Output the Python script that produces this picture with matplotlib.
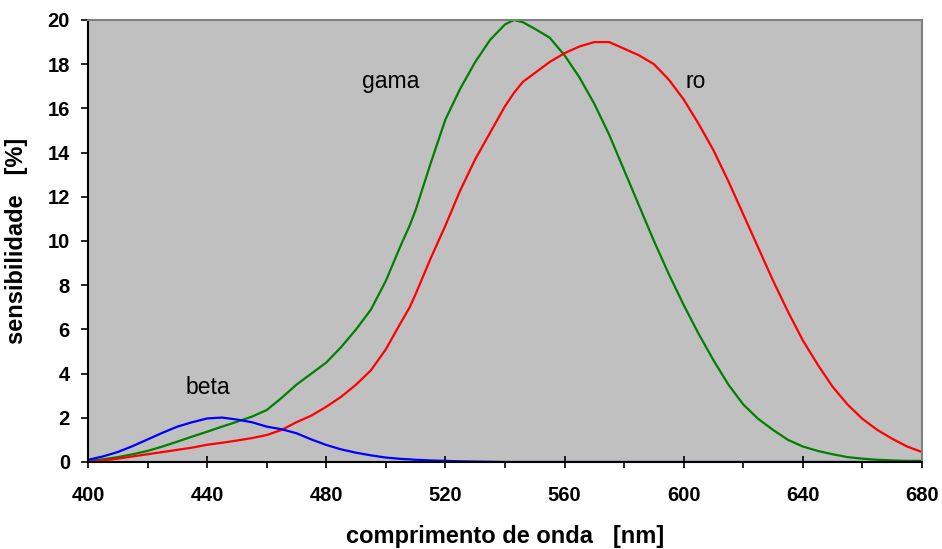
import matplotlib.pyplot as plt
from matplotlib.ticker import MultipleLocator

plt.rcParams['font.family'] = ['Liberation Sans', 'DejaVu Sans']

# comprimento de onda [nm]
wl = [400, 405, 410, 415, 420, 425, 430, 435, 440, 445, 450, 455, 460, 465, 470, 475,
      480, 485, 490, 495, 500, 505, 508, 510, 515, 520, 525, 530, 535, 540, 543,
      546, 550, 555, 560, 565, 570, 575, 580, 585, 590, 595, 600, 605, 610, 615,
      620, 625, 630, 635, 640, 645, 650, 655, 660, 665, 670, 675, 680]

# sensibilidade [%]
gama = [0.05, 0.12, 0.22, 0.35, 0.5, 0.7, 0.92, 1.15, 1.37, 1.6, 1.82, 2.05, 2.35, 2.9, 3.5, 4.0,
        4.5, 5.2, 6.0, 6.9, 8.2, 9.8, 10.7, 11.4, 13.5, 15.5, 16.9, 18.1, 19.1, 19.8, 20.0,
        19.9, 19.6, 19.2, 18.4, 17.4, 16.2, 14.8, 13.2, 11.6, 10.0, 8.5, 7.1, 5.8, 4.6, 3.5,
        2.6, 1.95, 1.45, 1.0, 0.7, 0.5, 0.35, 0.22, 0.15, 0.1, 0.07, 0.05, 0.05]
ro = [0.0, 0.07, 0.15, 0.25, 0.35, 0.45, 0.55, 0.65, 0.78, 0.87, 0.97, 1.08, 1.22, 1.45, 1.8, 2.1,
      2.5, 2.95, 3.5, 4.15, 5.1, 6.3, 7.0, 7.6, 9.2, 10.7, 12.3, 13.7, 14.9, 16.1, 16.7,
      17.2, 17.6, 18.1, 18.5, 18.8, 19.0, 19.0, 18.7, 18.4, 18.0, 17.3, 16.4, 15.3, 14.1, 12.7,
      11.2, 9.7, 8.2, 6.8, 5.5, 4.4, 3.4, 2.6, 1.95, 1.45, 1.05, 0.7, 0.45]
beta = [0.1, 0.25, 0.45, 0.72, 1.02, 1.32, 1.6, 1.8, 1.97, 2.01, 1.92, 1.8, 1.6, 1.48, 1.3, 1.02,
        0.77, 0.57, 0.42, 0.3, 0.2, 0.14, 0.12, 0.1, 0.07, 0.05, 0.03, 0.02, 0.01, 0.0, 0.0,
        0.0, 0.0, 0.0, 0.0, 0.0, 0.0, 0.0, 0.0, 0.0, 0.0, 0.0, 0.0, 0.0, 0.0, 0.0,
        0.0, 0.0, 0.0, 0.0, 0.0, 0.0, 0.0, 0.0, 0.0, 0.0, 0.0, 0.0, 0.0]

fig = plt.figure(figsize=(9.42, 5.49), dpi=100)
ax = fig.add_axes([0.0934, 0.1585, 0.8854, 0.8051])
ax.set_facecolor('#c0c0c0')

ax.plot(wl, gama, color='#008000', lw=1.6)
ax.plot(wl, ro, color='#ff0000', lw=1.6)
ax.plot(wl, beta, color='#0000ff', lw=1.6)

ax.text(501.5, 17.2, 'gama', fontsize=16.5, ha='center', va='center')
ax.text(604, 17.2, 'ro', fontsize=16.5, ha='center', va='center')
ax.text(440.3, 3.35, 'beta', fontsize=16.5, ha='center', va='center')

ax.set_xlim(400, 680)
ax.set_ylim(0, 20)
ax.xaxis.set_major_locator(MultipleLocator(40))
ax.xaxis.set_minor_locator(MultipleLocator(20))
ax.yaxis.set_major_locator(MultipleLocator(2))

ax.tick_params(axis='x', which='major', direction='inout', length=9, width=1.2, pad=13)
ax.tick_params(axis='x', which='minor', direction='out', length=4, width=1.2)
ax.tick_params(axis='y', which='major', direction='out', length=5, width=1.2, pad=8)
for lab in ax.get_xticklabels() + ax.get_yticklabels():
    lab.set_fontweight('bold')
    lab.set_fontsize(14.5)

for side in ('left', 'bottom'):
    ax.spines[side].set_color('black')
    ax.spines[side].set_linewidth(1.5)
for side in ('top', 'right'):
    ax.spines[side].set_color('#808080')
    ax.spines[side].set_linewidth(1.5)

ax.set_xlabel('comprimento de onda   [nm]', fontsize=17, fontweight='bold', labelpad=14)
ax.set_ylabel('sensibilidade   [%]', fontsize=17, fontweight='bold', labelpad=14)

fig.savefig('out.png', dpi=100)
